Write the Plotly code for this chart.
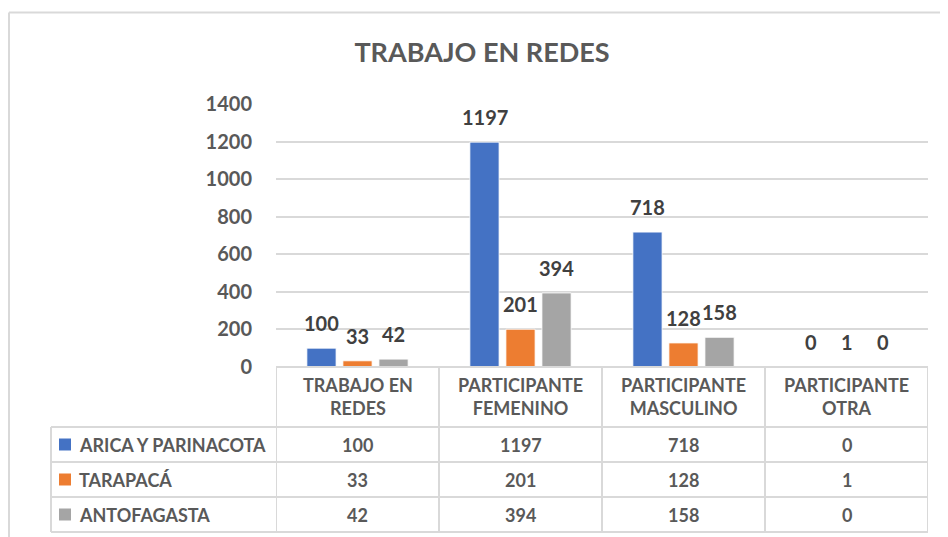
import plotly.graph_objects as go

categories = ["TRABAJO EN<br>REDES", "PARTICIPANTE<br>FEMENINO", "PARTICIPANTE<br>MASCULINO", "PARTICIPANTE<br>OTRA"]
series_names = ["ARICA Y PARINACOTA", "TARAPACÁ", "ANTOFAGASTA"]
arica = [100, 1197, 718, 0]
tarapaca = [33, 201, 128, 1]
antofagasta = [42, 394, 158, 0]
colors = ["#4472C4", "#ED7D31", "#A5A5A5"]
title_text = "TRABAJO EN REDES"

W, H = 948, 537
OFF = 8  # page offset of the figure in the browser
FONT = "Lato"
TXT = "#595959"
LINE = "#D9D9D9"

def py(px):
    return 1 - (px - OFF) / H

def pxx(px):
    return (px - OFF) / W

series = [arica, tarapaca, antofagasta]
xidx = list(range(len(categories)))

fig = go.Figure()
for name, vals, col in zip(series_names, series, colors):
    fig.add_trace(go.Bar(x=xidx, y=vals, name=name,
                         marker=dict(color=col, line=dict(color="white", width=0.8)),
                         showlegend=False))

annotations = []
shifts = [-36, 0, 36]
for vals, sh in zip(series, shifts):
    for i, v in enumerate(vals):
        annotations.append(dict(x=i, y=v, xref="x", yref="y", text=str(v), showarrow=False,
                                xshift=sh, yshift=25, yanchor="middle",
                                font=dict(family=FONT, size=20, color="#404040", weight="bold")))

row_tops = [427, 462, 497, 532]
for i, c in enumerate(categories):
    annotations.append(dict(x=i, y=py(396.5), xref="x", yref="paper", text=c, showarrow=False,
                            yanchor="middle", font=dict(family=FONT, size=18, color=TXT, weight="bold")))
    for r, vals in enumerate(series):
        yc = (row_tops[r] + row_tops[r + 1]) / 2
        annotations.append(dict(x=i, y=py(yc), xref="x", yref="paper", text=str(vals[i]), showarrow=False,
                                yanchor="middle", font=dict(family=FONT, size=18, color=TXT, weight="bold")))

shapes = []
for r, (nm, col) in enumerate(zip(series_names, colors)):
    yc = (row_tops[r] + row_tops[r + 1]) / 2
    annotations.append(dict(x=pxx(77), y=py(yc), xref="paper", yref="paper", text=nm, showarrow=False,
                            xanchor="left", yanchor="middle",
                            font=dict(family=FONT, size=18, color=TXT, weight="bold")))
    shapes.append(dict(type="rect", xref="paper", yref="paper", x0=pxx(59), x1=pxx(71),
                       y0=py(yc - 6), y1=py(yc + 6), fillcolor=col, line=dict(width=0)))

for xb in [-0.5, 0.5, 1.5, 2.5, 3.5]:
    shapes.append(dict(type="line", xref="x", yref="paper", x0=xb, x1=xb, y0=py(367), y1=py(532),
                       line=dict(color=LINE, width=2)))
shapes.append(dict(type="line", xref="paper", yref="paper", x0=pxx(51), x1=pxx(51), y0=py(427), y1=py(532),
                   line=dict(color=LINE, width=2)))
shapes.append(dict(type="line", xref="x", yref="paper", x0=-0.5, x1=3.5, y0=py(367), y1=py(367),
                   line=dict(color=LINE, width=2)))
for yb in row_tops:
    shapes.append(dict(type="line", xref="paper", yref="paper", x0=pxx(51), x1=pxx(928), y0=py(yb), y1=py(yb),
                       line=dict(color=LINE, width=2)))
# chart border (left edge as close as the page allows)
shapes.append(dict(type="line", xref="paper", yref="paper", x0=pxx(9), x1=1.05, y0=py(12.5), y1=py(12.5),
                   line=dict(color=LINE, width=2)))
shapes.append(dict(type="line", xref="paper", yref="paper", x0=pxx(9), x1=pxx(9), y0=-0.05, y1=py(12.5),
                   line=dict(color=LINE, width=2)))

fig.update_layout(
    width=W, height=H, autosize=False,
    margin=dict(l=0, r=0, t=0, b=0, pad=0, autoexpand=False),
    paper_bgcolor="white", plot_bgcolor="white",
    barmode="group", bargap=0.337, bargroupgap=0.19,
    title=dict(text=title_text, x=pxx(482), xanchor="center", y=py(53), yanchor="middle",
               automargin=False,
               font=dict(family=FONT, size=27, color=TXT, weight="bold")),
    xaxis=dict(domain=[pxx(276), pxx(928)], range=[-0.5, 3.5], showticklabels=False, showgrid=False,
               zeroline=False, showline=False, fixedrange=True, automargin=False),
    yaxis=dict(domain=[py(367), py(104)], range=[0, 1400], dtick=200, tick0=0, showgrid=True,
               gridcolor=LINE, gridwidth=1.5, zeroline=False, showline=False, automargin=False,
               ticklabelstandoff=23, fixedrange=True,
               tickfont=dict(family=FONT, size=20, color=TXT, weight="bold")),
    annotations=annotations, shapes=shapes,
    showlegend=False,
)

fig.write_html("out.html")
